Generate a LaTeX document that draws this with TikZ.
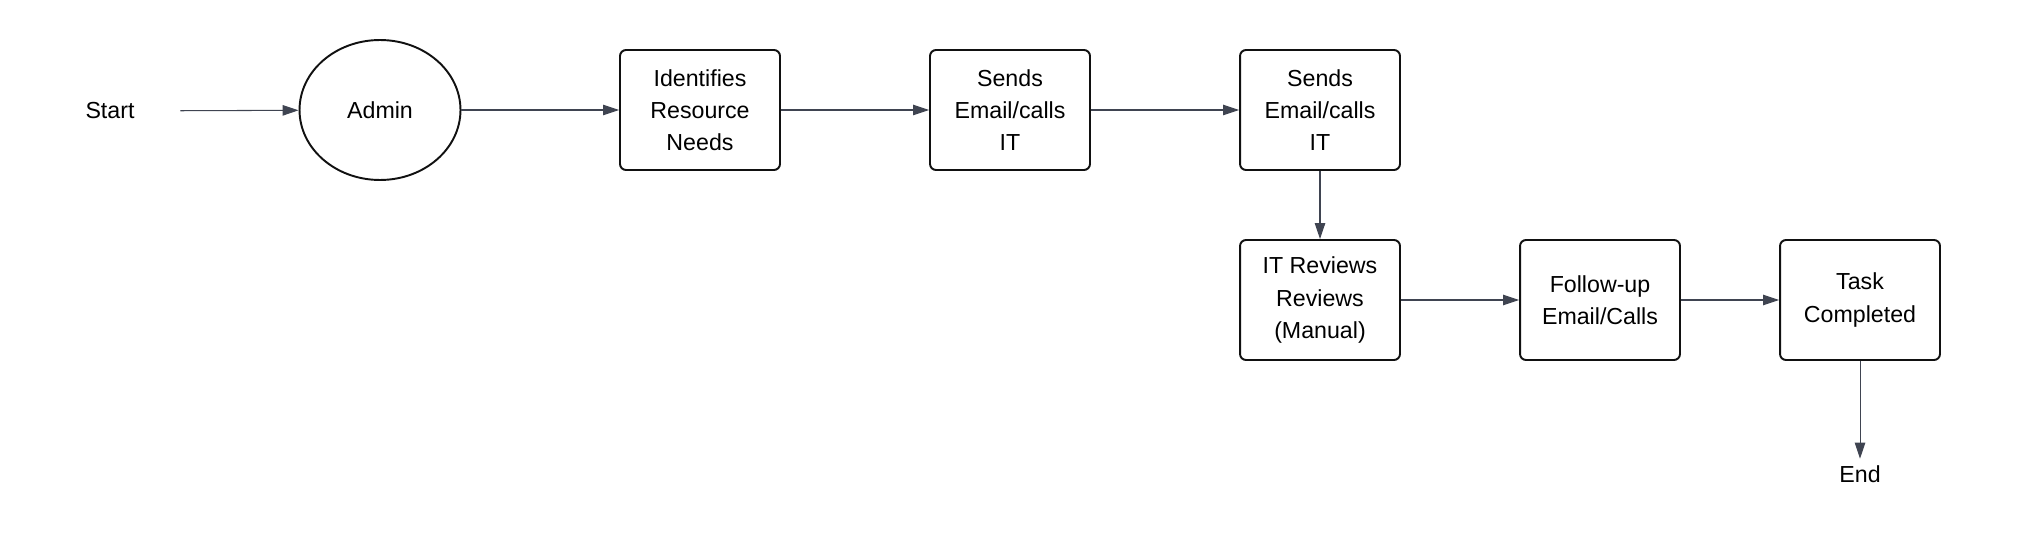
\documentclass[tikz,border=0pt]{standalone}
\usepackage{fontspec}
\setmainfont{Liberation Sans}
\usetikzlibrary{arrows.meta,shapes.geometric}
\definecolor{arrowgray}{HTML}{3F4451}
\definecolor{boxline}{HTML}{111111}
\begin{document}
\begin{tikzpicture}[x=0.02cm,y=-0.02cm,
  every node/.style={font=\fontsize{13.2}{18.3}\selectfont, align=center},
  procbox/.style={draw=boxline, line width=1.1pt, rounded corners=0.12cm, minimum width=3.2cm, minimum height=2.4cm, inner sep=0pt},
  ellbox/.style={draw=boxline, line width=1.1pt, ellipse, minimum width=3.22cm, minimum height=2.8cm, inner sep=0pt},
  plain/.style={inner sep=0pt},
  arr/.style={draw=arrowgray, line width=0.6pt, -{Triangle[length=0.32cm,width=0.21cm]}, fill=arrowgray}
]
\useasboundingbox (0,0) rectangle (2020,560);
\node[plain, minimum width=2.8cm, minimum height=0.6cm] (start) at (110,111) {Start};
\node[ellbox] (admin) at (380,110) {Admin};
\node[procbox] (ident) at (700,110) {Identifies\\Resource\\Needs};
\node[procbox] (send1) at (1010,110) {Sends\\Email/calls\\IT};
\node[procbox] (send2) at (1320,110) {Sends\\Email/calls\\IT};
\node[procbox] (review) at (1320,300) {IT Reviews\\Reviews\\(Manual)};
\node[procbox] (follow) at (1600,300) {Follow-up\\Email/Calls};
\node[procbox] (task) at (1860,300) {Task\\Completed};
\node[plain, minimum height=0.6cm] (end) at (1860,474) {End};
\draw[arr] (start) -- (admin);
\draw[arr] (admin) -- (ident);
\draw[arr] (ident) -- (send1);
\draw[arr] (send1) -- (send2);
\draw[arr] (send2) -- (review);
\draw[arr] (review) -- (follow);
\draw[arr] (follow) -- (task);
\draw[arr] (task) -- (end);
\end{tikzpicture}
\end{document}
